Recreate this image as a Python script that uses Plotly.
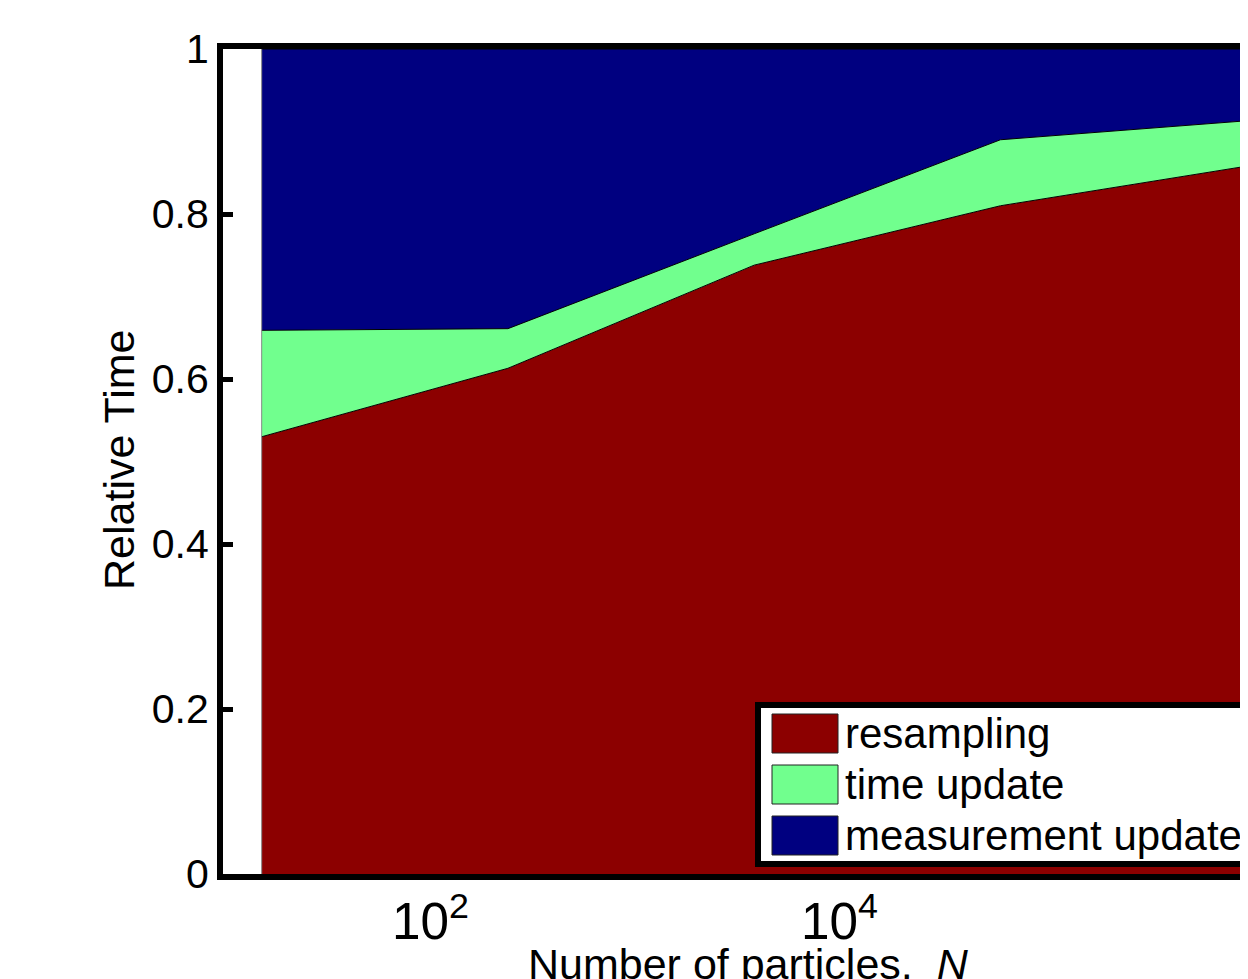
import plotly.graph_objects as go

# ---------------- data ----------------
particles = [16, 256, 4096, 65536, 1048576]
resampling = [0.530, 0.613, 0.738, 0.810, 0.858]
time_update = [0.129, 0.048, 0.038, 0.080, 0.055]
measurement_update = [0.341, 0.339, 0.224, 0.110, 0.087]
series_names = ["resampling", "time update", "measurement update"]
series_colors = ["#8C0000", "#71FF8E", "#000080"]
y_ticks = [0, 0.2, 0.4, 0.6, 0.8, 1]

# ---------------- layout geometry (pixels) ----------------
OFF = 8  # default page body margin
W, H = 1240, 971
ML, MR, MT, MB = 215, 0, 41, 105
PW = W - ML - MR
PH = H - MT - MB
FONT = "Liberation Sans, Arial, Helvetica, sans-serif"
FS = 41
FS_LEG = 42
FS_TITLE = 43


def px(x):
    return (x - OFF - ML) / PW


def py(y):
    return (H - MB - (y - OFF)) / PH


fig = go.Figure()
for name, vals, col in zip(series_names,
                           [resampling, time_update, measurement_update],
                           series_colors):
    fig.add_trace(go.Scatter(
        x=particles, y=vals, name=name, stackgroup="one",
        mode="lines", line=dict(color="black", width=1),
        fillcolor=col, showlegend=False, hoverinfo="x+y+name"))

# left edge of the patch
fig.add_trace(go.Scatter(x=[particles[0], particles[0]], y=[0, 1], mode="lines",
                         line=dict(color="#888888", width=1), showlegend=False,
                         hoverinfo="skip"))

fig.update_xaxes(type="log", range=[1.015, 6.027], tickmode="linear", tick0=0,
                 dtick=2, exponentformat="power", showexponent="all",
                 showgrid=False, zeroline=False, ticks="", ticklabelshift=6,
                 showline=True, linecolor="black", linewidth=6, mirror=True,
                 tickfont=dict(family=FONT, size=FS, color="black"),
                 automargin=False)
fig.update_yaxes(range=[0, 1], tickvals=y_ticks, ticktext=[f"{v:g}" for v in y_ticks],
                 showgrid=False, zeroline=False, ticks="inside", ticklen=10,
                 tickwidth=5, tickcolor="black",
                 showline=True, linecolor="black", linewidth=6, mirror=False,
                 tickfont=dict(family=FONT, size=FS, color="black"),
                 automargin=False)

shapes = []
annotations = []

# legend box
shapes.append(dict(type="rect", xref="paper", yref="paper",
                   x0=px(758), x1=px(1320), y0=py(864), y1=py(705),
                   fillcolor="white", line=dict(color="black", width=6), layer="above"))
row_tops = [714, 765, 816]
for name, col, top in zip(series_names, series_colors, row_tops):
    shapes.append(dict(type="rect", xref="paper", yref="paper",
                       x0=px(772), x1=px(838), y0=py(top + 39), y1=py(top),
                       fillcolor=col, line=dict(color="#222222", width=1), layer="above"))
    annotations.append(dict(text=name, xref="paper", yref="paper",
                            x=px(843), y=py(top + 19.5), xanchor="left", yanchor="middle",
                            showarrow=False, font=dict(family=FONT, size=FS_LEG, color="black")))

# axis titles
annotations.append(dict(text="Number of particles,  <i>N</i>", xref="paper", yref="paper",
                        x=px(748), y=py(964), xanchor="center", yanchor="middle",
                        showarrow=False, font=dict(family=FONT, size=FS_TITLE, color="black")))
annotations.append(dict(text="Relative Time", xref="paper", yref="paper",
                        x=px(119), y=py(460), xanchor="center", yanchor="middle",
                        textangle=-90, showarrow=False,
                        font=dict(family=FONT, size=FS_TITLE, color="black")))

fig.update_layout(width=W, height=H, margin=dict(l=ML, r=MR, t=MT, b=MB, autoexpand=False),
                  plot_bgcolor="white", paper_bgcolor="white",
                  shapes=shapes, annotations=annotations, showlegend=False,
                  font=dict(family=FONT, size=FS, color="black"))

fig.write_html("out.html",
               post_script="document.documentElement.style.overflow='hidden';"
                           "document.body.style.overflow='hidden';")
